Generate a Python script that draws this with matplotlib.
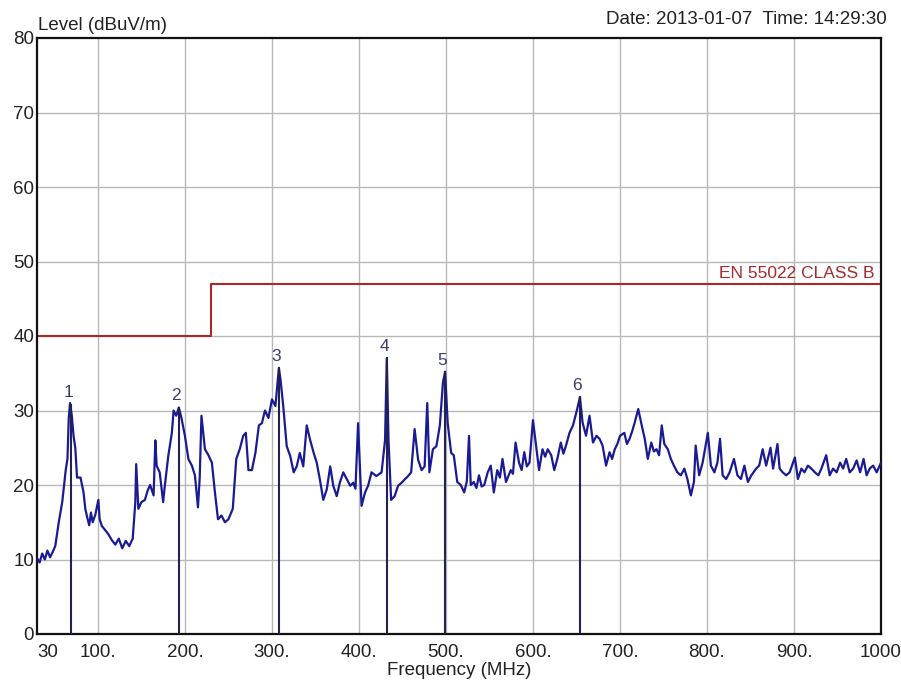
import matplotlib
matplotlib.use("Agg")
import matplotlib.pyplot as plt

plt.rcParams['font.family'] = ['Liberation Sans', 'DejaVu Sans']

freq = [30, 33, 36, 39, 42, 45, 48, 51, 55, 59, 63, 65, 66.5, 68, 70, 72, 74, 76, 80, 83.5,
        85.5, 88, 90, 92, 94, 97, 100.5, 102, 104.5, 108, 112, 116, 120, 124, 128, 132, 136, 140, 143, 144,
        146.5, 150, 154, 157, 160, 164, 166, 167.5, 171, 175, 177, 181, 185, 187, 190, 193, 196, 200, 204, 208,
        211.5, 215, 217, 219, 223, 227, 231, 234.5, 238, 242, 246, 250, 255, 259, 263, 267,
        270, 273, 277, 281, 285, 288.5, 292, 296, 300, 304, 308, 310, 313, 317, 321, 325, 328.5, 332, 336, 340,
        344, 348, 351.5, 355, 359, 363, 367, 370.5, 374.5, 378, 382, 386, 390, 393.5, 396, 399, 403, 407, 410.5,
        414.5, 420, 426, 430, 432, 434, 437, 441, 445, 449, 453, 456.5, 460, 464, 468, 472, 475.5, 478.5, 481,
        485, 489, 493, 496.5, 499, 502, 506, 509, 513,
        517, 521, 524, 526.5, 528.5, 532, 535, 538, 541, 544, 548, 551.5, 555, 559, 562, 565, 569, 574.5, 577,
        580, 584, 587, 590, 593, 596, 600, 603.5, 607, 611, 614, 617, 621, 624.5, 628, 632, 635, 638, 642, 646,
        650, 654, 657, 661, 665, 669, 673, 676.5, 680, 684, 688, 691, 694, 697, 700, 705, 708, 711, 714, 717,
        721, 725, 728.5, 732, 736, 739, 742, 745, 748,
        751, 755, 758.5, 762, 766, 770, 774, 777.5, 781.5, 785, 787, 791, 795, 799, 801, 804.5, 808.5, 812, 815,
        818, 822, 826, 831, 835, 839, 843, 847, 851, 856.5, 860, 864, 868, 873, 876, 881, 883.5, 887, 891, 895,
        901, 904.5, 908.5, 912, 916, 920, 924, 928, 931.5, 937, 941, 945, 949, 953, 956.5, 960, 964, 968, 972,
        976, 980, 983.5, 987, 991, 995, 1000]
level = [10.2, 9.6, 10.8, 10.0, 11.2, 10.3, 11.0, 11.8, 15.0, 17.7, 22.0, 23.5, 29.0, 31.0, 29.3, 26.6, 25.0, 21.0, 21.0, 19.0,
         16.8, 15.5, 14.6, 16.3, 15.0, 16.0, 18.0, 15.4, 14.5, 14.0, 13.4, 12.6, 12.0, 12.8, 11.5, 12.5, 11.8, 12.8, 17.7, 22.8,
         16.8, 17.7, 18.0, 19.2, 20.0, 18.6, 26.0, 22.6, 21.7, 17.7, 20.0, 24.0, 27.0, 30.0, 29.3, 30.4, 29.0, 26.6, 23.5, 22.6,
         21.3, 17.0, 21.0, 29.3, 24.8, 24.0, 23.0, 19.0, 15.4, 15.9, 15.0, 15.4, 16.8, 23.5, 24.8, 26.6,
         27.0, 22.0, 22.0, 24.3, 28.0, 28.3, 30.0, 29.0, 31.5, 30.6, 35.7, 34.0, 30.6, 25.2, 23.9, 21.7, 22.5, 24.3, 22.5, 28.0,
         26.0, 24.3, 23.0, 20.8, 18.0, 19.4, 22.5, 19.9, 18.5, 20.3, 21.7, 20.8, 19.9, 20.3, 19.5, 28.3, 17.2, 19.0, 19.9,
         21.7, 21.2, 21.7, 26.0, 37.0, 26.0, 18.0, 18.5, 19.9, 20.3, 20.8, 21.2, 21.7, 27.5, 23.4, 22.0, 22.5, 31.0, 21.7,
         24.8, 25.2, 28.0, 33.7, 35.2, 28.3, 24.3, 24.0, 20.4,
         20.0, 19.0, 20.5, 26.6, 20.0, 20.4, 19.6, 21.3, 19.8, 20.0, 21.7, 22.6, 19.0, 22.0, 21.0, 23.5, 20.4, 22.0, 21.5,
         25.7, 23.0, 22.0, 24.4, 22.5, 23.0, 28.7, 25.3, 22.0, 24.8, 23.8, 24.8, 24.0, 22.0, 23.5, 25.7, 24.2, 25.3, 27.0, 28.0,
         29.8, 31.8, 28.4, 26.6, 29.3, 25.7, 26.6, 26.2, 25.3, 22.6, 24.4, 23.5, 24.8, 25.5, 26.6, 27.0, 25.5, 26.2, 27.2, 28.4,
         30.2, 28.0, 26.2, 23.5, 25.7, 24.5, 24.8, 24.0, 28.0,
         25.5, 24.8, 23.5, 22.6, 21.7, 21.3, 22.2, 20.8, 18.6, 20.4, 25.3, 21.3, 23.0, 25.7, 27.0, 22.6, 21.7, 23.0, 26.2,
         21.3, 20.8, 21.7, 23.5, 21.3, 20.8, 22.6, 20.4, 21.3, 22.2, 22.6, 24.8, 22.6, 25.0, 22.2, 25.5, 22.2, 21.7, 21.3, 21.7,
         23.7, 20.8, 22.2, 21.7, 22.6, 22.2, 21.7, 21.3, 22.2, 24.0, 21.3, 22.2, 21.7, 23.0, 22.2, 23.5, 21.7, 22.2, 23.3,
         21.7, 23.5, 21.3, 22.2, 22.6, 21.7, 23.0]

# limit line EN 55022 class B
limit_freq = [30, 230, 230, 1000]
limit_level = [40, 40, 47, 47]

# markers
marker_id = ['1', '2', '3', '4', '5', '6']
marker_freq = [69, 193, 308, 432, 499, 654]
marker_level = [30.8, 30.4, 35.7, 37.0, 35.2, 31.8]

xticks = [30, 100, 200, 300, 400, 500, 600, 700, 800, 900, 1000]
xticklabels = ['30', '100.', '200.', '300.', '400.', '500.', '600.', '700.', '800.', '900.', '1000']

fig = plt.figure(figsize=(9.01, 6.86), dpi=100)
ax = fig.add_axes([37 / 901, 1 - 634 / 686, (881 - 37) / 901, (634 - 38) / 686])

for g in range(100, 1000, 100):
    ax.axvline(g, color='#b8b8b8', lw=1, zorder=0)
for g in range(10, 80, 10):
    ax.axhline(g, color='#b8b8b8', lw=1, zorder=0)

ax.plot(freq, level, color='#1a1a94', lw=1.6, zorder=3)
ax.plot(limit_freq, limit_level, color='#a8282c', lw=1.5, zorder=2)
ax.text(992, 47.4, 'EN 55022 CLASS B', color='#a8282c', fontsize=12.5,
        ha='right', va='bottom')

for mid, mf, ml in zip(marker_id, marker_freq, marker_level):
    ax.plot([mf, mf], [0, ml], color='#22224e', lw=1.5, zorder=4)
    ax.annotate(mid, (mf, ml), xytext=(-2, 3), textcoords='offset points',
                ha='center', va='bottom', fontsize=12.5, color='#3c3c6e')

ax.set_xlim(30, 1000)
ax.set_ylim(0, 80)
ax.set_yticks(range(0, 90, 10))
ax.set_yticklabels([str(v) for v in range(0, 90, 10)], fontsize=13.5)
ax.set_xticks(xticks)
ax.set_xticklabels(xticklabels, fontsize=13.5)
ax.xaxis.get_majorticklabels()[0].set_horizontalalignment('left')
ax.tick_params(axis='both', length=0, colors='#222222')
ax.tick_params(axis='x', pad=7)
ax.tick_params(axis='y', pad=2)
for s in ax.spines.values():
    s.set_linewidth(1.6)
    s.set_color('#111111')

ax.set_xlabel('Frequency (MHz)', fontsize=13.5, color='#222222', labelpad=1)
fig.text(38 / 901, 1 - 25 / 686, 'Level (dBuV/m)', fontsize=13.5, color='#222222',
         ha='left', va='center')
fig.text(887 / 901, 1 - 19 / 686, 'Date: 2013-01-07  Time: 14:29:30', fontsize=13.5,
         color='#222222', ha='right', va='center')

fig.savefig('out.png', dpi=100, facecolor='white')
